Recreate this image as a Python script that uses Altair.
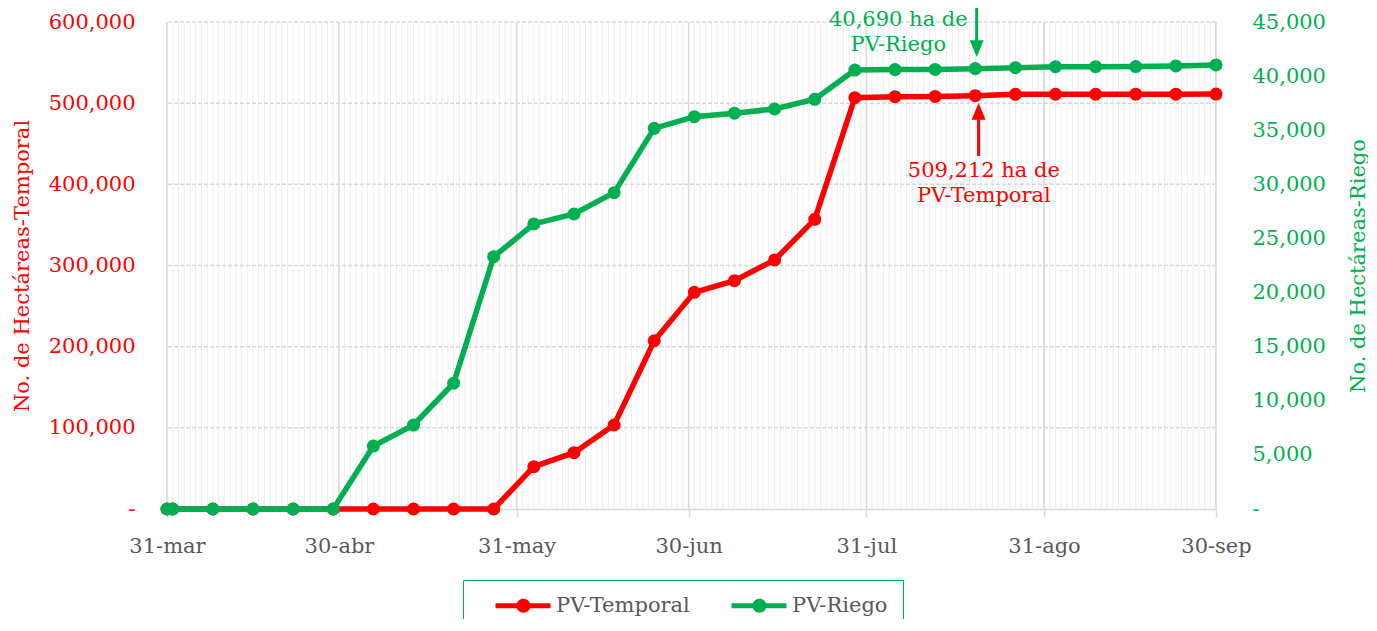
import altair as alt
import pandas as pd

# ---------------- data ----------------
dates = ["2023-03-31", "2023-04-01", "2023-04-08", "2023-04-15", "2023-04-22", "2023-04-29",
         "2023-05-06", "2023-05-13", "2023-05-20", "2023-05-27", "2023-06-03", "2023-06-10",
         "2023-06-17", "2023-06-24", "2023-07-01", "2023-07-08", "2023-07-15", "2023-07-22",
         "2023-07-29", "2023-08-05", "2023-08-12", "2023-08-19", "2023-08-26", "2023-09-02",
         "2023-09-09", "2023-09-16", "2023-09-23", "2023-09-30"]
temporal = [0, 0, 0, 0, 0, 0, 0, 0, 0, 0,
            52100, 69400, 103500, 207300, 267000, 281300, 306800, 356900,
            506700, 508000, 508300, 509212, 510900, 511000, 511000, 511100, 511100, 511200]
riego = [0, 0, 0, 0, 0, 0,
         5820, 7760, 11620, 23310, 26340, 27260, 29230, 35180, 36250, 36570, 36960, 37860,
         40560, 40600, 40620, 40690, 40780, 40870, 40870, 40880, 40940, 41030]
series_names = ["PV-Temporal", "PV-Riego"]
month_ticks = ["2023-03-31", "2023-04-30", "2023-05-31", "2023-06-30",
               "2023-07-31", "2023-08-31", "2023-09-30"]
left_ticks = [0, 100000, 200000, 300000, 400000, 500000, 600000]
right_ticks = [0, 5000, 10000, 15000, 20000, 25000, 30000, 35000, 40000, 45000]

# annotations (data coordinates)
riego_note = ["40,690 ha de", "PV-Riego"]
temporal_note = ["509,212 ha de", "PV-Temporal"]

RED = "#FF0000"
GREEN = "#00B050"
GREY = "#595959"
FONT = "DejaVu Serif"
FS = 21
W, H = 1049, 487

df = pd.DataFrame({"date": [d + "T00:00:00" for d in dates],
                   "temporal": temporal, "riego": riego})
daily = pd.DataFrame({"date": [d.strftime("%Y-%m-%dT00:00:00")
                               for d in pd.date_range(month_ticks[0], month_ticks[-1])]})
monthly = pd.DataFrame({"date": [m + "T00:00:00" for m in month_ticks]})
hlines = pd.DataFrame({"temporal": left_ticks[1:]})


def dt(s):
    y, m, d = s.split("-")
    return alt.DateTime(year=int(y), month=int(m), date=int(d))


xscale = alt.Scale(domain=[dt(month_ticks[0]), dt(month_ticks[-1])], nice=False)
xaxis = alt.Axis(
    values=[dt(m) for m in month_ticks],
    labelExpr="date(datum.value) + '-' + ['ene','feb','mar','abr','may','jun','jul','ago','sep','oct','nov','dic'][month(datum.value)]",
    labelColor=GREY, labelFontSize=FS, labelFont=FONT, labelPadding=18,
    labelFlush=False, labelOverlap=False,
    tickColor="#D9D9D9", tickSize=8, tickWidth=1.5,
    domainColor="#D9D9D9", domainWidth=1.5, grid=False, title=None)
xenc = alt.X("date:T", scale=xscale, axis=xaxis)

yL_scale = alt.Scale(domain=[0, 600000], nice=False, zero=True)
yL_axis = alt.Axis(
    orient="left", values=left_ticks,
    labelExpr="datum.value == 0 ? '-' : format(datum.value, ',')",
    labelColor=RED, labelFontSize=FS, labelFont=FONT, labelPadding=32,
    ticks=False, domain=False, grid=False,
    title="No. de Hectáreas-Temporal", titleColor=RED, titleFontSize=FS,
    titleFont=FONT, titleFontWeight="normal", titlePadding=16)
yL = alt.Y("temporal:Q", scale=yL_scale, axis=yL_axis)

yR_scale = alt.Scale(domain=[0, 45000], nice=False, zero=True)
yR_axis = alt.Axis(
    orient="right", values=right_ticks,
    labelExpr="datum.value == 0 ? '-' : format(datum.value, ',')",
    labelColor=GREEN, labelFontSize=FS, labelFont=FONT, labelPadding=36,
    labelAlign="left",
    ticks=False, domain=False, grid=False,
    title="No. de Hectáreas-Riego", titleColor=GREEN, titleFontSize=FS,
    titleFont=FONT, titleFontWeight="normal", titleAngle=270,
    titleBaseline="middle", titleAlign="center", titleX=142, titleY=H / 2)
yR = alt.Y("riego:Q", scale=yR_scale, axis=yR_axis)

LEG_PATH = ("M 0.7 -0.25 L 6.2 -0.25 L 6.2 0.25 L 0.7 0.25 Z "
            "M 2.8 0 A 0.7 0.7 0 1 1 4.2 0 A 0.7 0.7 0 1 1 2.8 0 Z")
legend = alt.Legend(
    title=None, orient="none", legendX=296, legendY=558, direction="horizontal",
    symbolType=LEG_PATH, symbolSize=400, symbolStrokeWidth=0, symbolOpacity=1,
    labelFont=FONT, labelFontSize=FS, labelColor=GREY, labelOffset=57,
    columnPadding=24, padding=15, strokeColor=GREEN)
cscale = alt.Scale(domain=series_names, range=[RED, GREEN])
color_enc = alt.Color("series:N", scale=cscale, legend=legend)

# ---------------- grid ----------------
daily_rules = alt.Chart(daily).mark_rule(color="#EDEDED", strokeWidth=1).encode(x=xenc)
month_rules = alt.Chart(monthly).mark_rule(color="#D9D9D9", strokeWidth=1.5).encode(x=xenc)
h_rules = alt.Chart(hlines).mark_rule(color="#D9D9D9", strokeWidth=1.5,
                                      strokeDash=[4, 2]).encode(y=yL)

# ---------------- red (left axis) ----------------
base = alt.Chart(df)
red_line = base.mark_line(color=RED, strokeWidth=5.5).encode(x=xenc, y=yL)
red_pts = base.mark_point(filled=True, size=170, opacity=1).transform_calculate(
    series="'" + series_names[0] + "'").encode(x=xenc, y=yL, color=color_enc)

red_arrow_df = pd.DataFrame({"date": ["2023-08-19T14:00:00"],
                             "temporal": [434900], "temporal2": [489850]})
red_shaft = alt.Chart(red_arrow_df).mark_rule(color=RED, strokeWidth=3).encode(
    x=xenc, y=yL, y2=alt.Y2("temporal2:Q"))
red_head = alt.Chart(red_arrow_df).mark_point(
    shape="M -0.5 0.6 L 0.5 0.6 L 0 -0.6 Z", size=784, filled=True, opacity=1,
    color=RED).encode(x=xenc, y=alt.Y("temporal2:Q", scale=yL_scale, axis=yL_axis))
red_text_df = pd.DataFrame({"date": ["2023-08-20T12:00:00"], "temporal": [409000]})
red_text = alt.Chart(red_text_df).mark_text(
    text=temporal_note, font=FONT, fontSize=FS, color=RED, align="center",
    baseline="alphabetic", lineHeight=25).encode(x=xenc, y=yL)

red_layer = alt.layer(daily_rules, month_rules, h_rules, red_line, red_pts,
                      red_shaft, red_head, red_text)

# ---------------- green (right axis) ----------------
green_line = base.mark_line(color=GREEN, strokeWidth=5.5).encode(x=xenc, y=yR)
green_pts = base.mark_point(filled=True, size=170, opacity=1).transform_calculate(
    series="'" + series_names[1] + "'").encode(x=xenc, y=yR, color=color_enc)

green_arrow_df = pd.DataFrame({"date": ["2023-08-19T06:00:00"],
                               "riego": [46294], "riego2": [42542]})
green_shaft = alt.Chart(green_arrow_df).mark_rule(color=GREEN, strokeWidth=3).encode(
    x=xenc, y=yR, y2=alt.Y2("riego2:Q"))
green_head = alt.Chart(green_arrow_df).mark_point(
    shape="M -0.5 -0.6 L 0.5 -0.6 L 0 0.6 Z", size=784, filled=True, opacity=1,
    color=GREEN).encode(x=xenc, y=alt.Y("riego2:Q", scale=yR_scale, axis=yR_axis))
green_text_df = pd.DataFrame({"date": ["2023-08-05T14:00:00"], "riego": [44630]})
green_text = alt.Chart(green_text_df).mark_text(
    text=riego_note, font=FONT, fontSize=FS, color=GREEN, align="center",
    baseline="alphabetic", lineHeight=25).encode(x=xenc, y=yR)

green_layer = alt.layer(green_line, green_pts, green_shaft, green_head, green_text)

chart = alt.layer(red_layer, green_layer).resolve_scale(
    y="independent", color="shared"
).properties(
    width=W, height=H,
    autosize=alt.AutoSizeParams(type="none"),
    padding={"left": 159, "top": 14, "right": 152, "bottom": 110},
    background="white",
).configure(font=FONT).configure_view(stroke=None)

chart.save("out.html", embed_options={"renderer": "svg", "actions": False})
